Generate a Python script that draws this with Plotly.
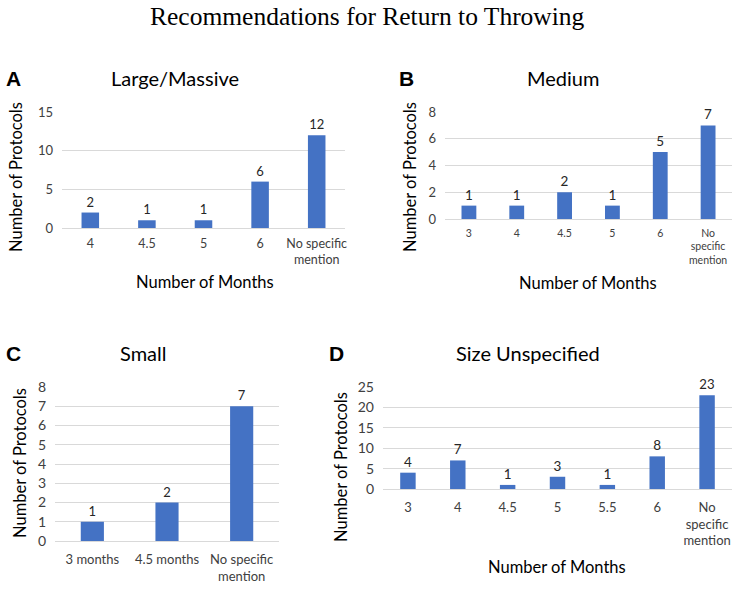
import plotly.graph_objects as go

W, H = 735, 604

cats_a = ["4", "4.5", "5", "6", "No specific<br>mention"]
vals_a = [2, 1, 1, 6, 12]
cats_b = ["3", "4", "4.5", "5", "6", "No<br>specific<br>mention"]
vals_b = [1, 1, 2, 1, 5, 7]
cats_c = ["3 months", "4.5 months", "No specific<br>mention"]
vals_c = [1, 2, 7]
cats_d = ["3", "4", "4.5", "5", "5.5", "6", "No<br>specific<br>mention"]
vals_d = [4, 7, 1, 3, 1, 8, 23]

FONT = "Lato"
BAR = "#4472C4"
GRID = "#D9D9D9"

# panel boxes in pixels: x0, x1, ytop, ybottom
panels = [
    dict(cats=cats_a, vals=vals_a, box=(62, 345, 112, 228), rng=15, dtick=5, tfs=12.5, yfs=13, lab=13, so=4),
    dict(cats=cats_b, vals=vals_b, box=(445, 732, 112, 219), rng=8, dtick=2, tfs=10.5, yfs=13, lab=13.5, so=4),
    dict(cats=cats_c, vals=vals_c, box=(55, 279, 387, 541), rng=8, dtick=1, tfs=13, yfs=14, lab=13, so=6),
    dict(cats=cats_d, vals=vals_d, box=(383, 732, 387, 489), rng=25, dtick=5, tfs=13, yfs=14, lab=13.5, so=6),
]

fig = go.Figure()
layout = {}
for i, p in enumerate(panels):
    n = "" if i == 0 else str(i + 1)
    x0, x1, yt, yb = p["box"]
    fig.add_trace(go.Bar(
        x=p["cats"], y=p["vals"], text=[str(v) for v in p["vals"]],
        textposition="outside", cliponaxis=False,
        textfont=dict(family=FONT, size=p["lab"], color="#262626"),
        marker=dict(color=BAR, line=dict(width=0)),
        xaxis="x" + n, yaxis="y" + n, showlegend=False,
    ))
    layout["xaxis" + n] = dict(
        domain=[x0 / W, x1 / W], anchor="y" + n, showgrid=False,
        showline=True, linecolor=GRID, linewidth=1, ticks="",
        tickfont=dict(family=FONT, size=p["tfs"], color="#404040"),
        ticklabelstandoff=p["so"], automargin=False, fixedrange=True,
    )
    layout["yaxis" + n] = dict(
        domain=[1 - yb / H, 1 - yt / H], anchor="x" + n, range=[0, p["rng"]],
        dtick=p["dtick"], showgrid=True, gridcolor=GRID, gridwidth=1,
        zeroline=False, showline=False, ticks="",
        tickfont=dict(family=FONT, size=p["yfs"], color="#404040"),
        ticklabelstandoff=8, automargin=False, fixedrange=True,
    )

fig.update_layout(**layout)
fig.update_layout(
    width=W, height=H, margin=dict(l=0, r=0, t=0, b=0, pad=0),
    plot_bgcolor="white", paper_bgcolor="white", bargap=0.69,
    font=dict(family=FONT, color="#262626"),
)

ann = []
def A(x, y, text, size, family=FONT, bold=False, angle=0, color="#000000"):
    t = f"<b>{text}</b>" if bold else text
    ann.append(dict(x=x / W, y=1 - y / H, xref="paper", yref="paper", text=t,
                    showarrow=False, textangle=angle, xanchor="center", yanchor="middle",
                    font=dict(family=family, size=size, color=color)))

A(367, 17, "Recommendations for Return to Throwing", 25.5, family="Liberation Serif")
# letters
A(13, 78, "A", 21, family="Liberation Sans", bold=True)
A(406, 78, "B", 21, family="Liberation Sans", bold=True)
A(13, 353, "C", 21, family="Liberation Sans", bold=True)
A(336, 353, "D", 21, family="Liberation Sans", bold=True)
# titles
A(175, 78, "Large/Massive", 20)
A(563, 78, "Medium", 20)
A(143, 353, "Small", 20)
A(528, 353, "Size Unspecified", 20)
# y titles
A(16, 177, "Number of Protocols", 16.5, angle=-90)
A(410, 177, "Number of Protocols", 16.5, angle=-90)
A(20, 463, "Number of Protocols", 16.5, angle=-90)
A(341, 467, "Number of Protocols", 16.5, angle=-90)
# x titles
A(205, 282, "Number of Months", 16.5)
A(588, 283, "Number of Months", 16.5)
A(557, 567, "Number of Months", 16.5)

fig.update_layout(annotations=ann)
fig.write_html("out.html", config={"displayModeBar": False},
               post_script="document.body.style.margin='0';document.body.style.overflow='hidden';")
